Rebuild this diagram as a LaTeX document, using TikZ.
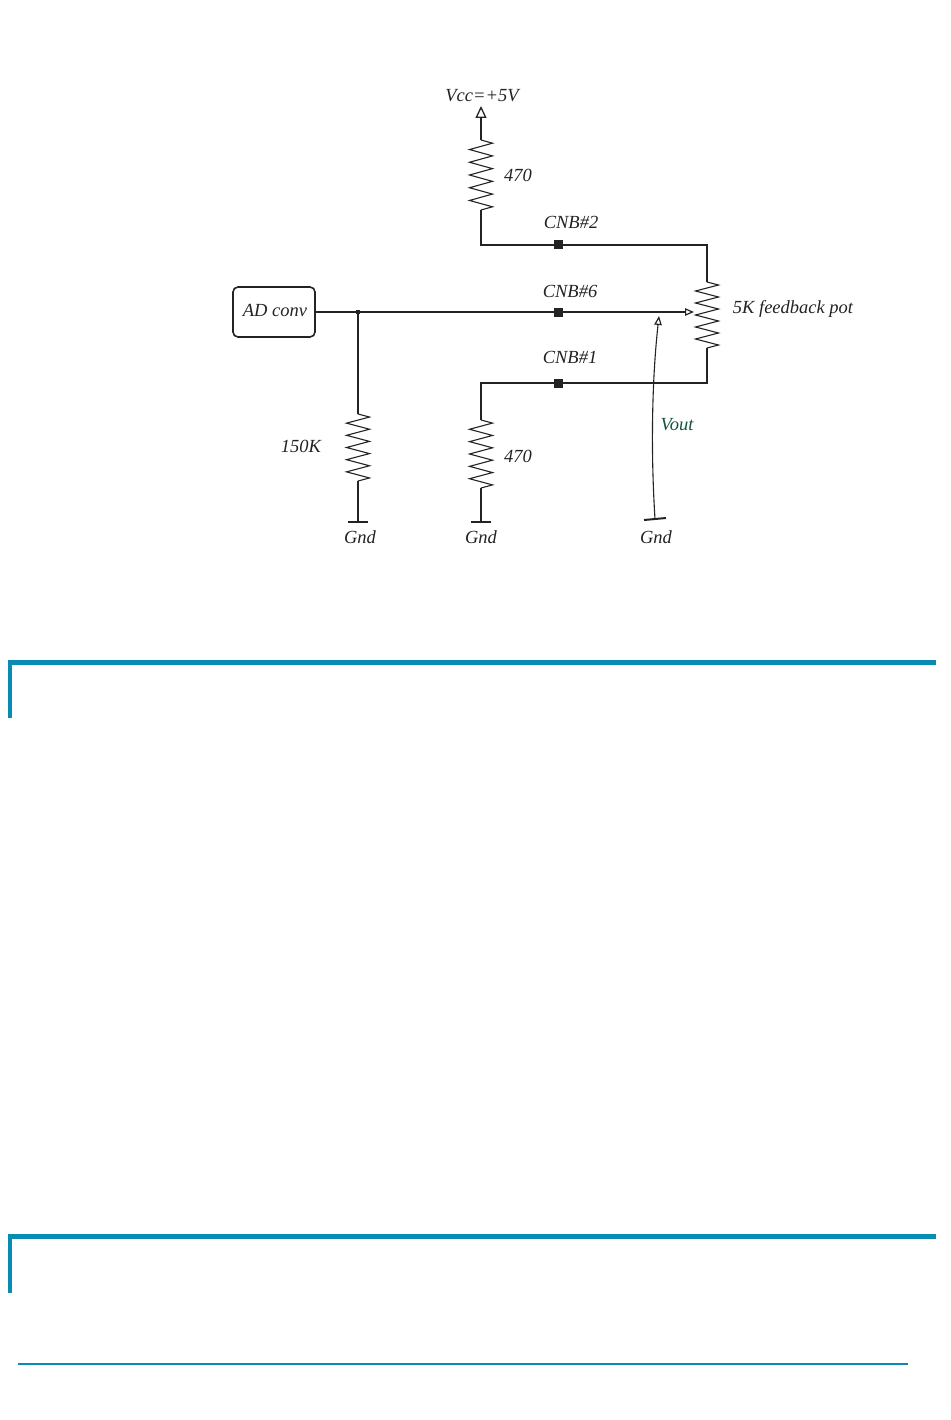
\documentclass[tikz,border=0pt]{standalone}
\usepackage{fontspec}
\setmainfont{Liberation Serif}
\usetikzlibrary{arrows.meta}
\definecolor{ink}{RGB}{35,35,35}
\definecolor{voutgreen}{RGB}{15,85,65}
\definecolor{rulecol}{RGB}{8,140,180}
\newcommand{\zigres}[3]{%
  \draw[wire] (#1,#2) \foreach \j in {0,...,10} { -- ({#1+11.5*(1-2*mod(\j,2))},{#2+(\j+0.5)*(#3-#2)/11}) } -- (#1,#3);
}
\begin{document}
\begin{tikzpicture}[x=1pt,y=-1pt,
  wire/.style={draw=ink, line width=1.1pt},
  gndbar/.style={draw=ink, line width=2pt},
  lbl/.style={font=\itshape\fontsize{18.5}{20}\selectfont, text=ink, inner sep=0pt},
  conn/.style={fill=ink, minimum size=9pt, inner sep=0pt, draw=none},
  openarrow/.style={-{Triangle[open,length=12pt,width=11pt,line width=1.3pt]}},
  smallarrow/.style={-{Triangle[open,length=9pt,width=7.5pt,line width=1.2pt]}},
  rulethick/.style={draw=rulecol, line width=5pt},
  rulethin/.style={draw=rulecol, line width=3.5pt}]
\useasboundingbox (0,0) rectangle (950,1420);

% labels
\node[lbl] (vcc) at (482,96) {Vcc=+5V};
\node[lbl] (l470a) at (518,175) {470};
\node[lbl] (lcnb2) at (571,222) {CNB\#2};
\node[lbl] (lcnb6) at (570,291) {CNB\#6};
\node[lbl] (lcnb1) at (570,357) {CNB\#1};
\node[lbl] (lpot) at (793,309) {5K feedback pot};
\node[lbl] (l150) at (301,446) {150K};
\node[lbl] (l470b) at (518,456) {470};
\node[lbl, text=voutgreen] (lvout) at (677,425) {Vout};
\node[lbl] (g1) at (360,537) {Gnd};
\node[lbl] (g2) at (481,537) {Gnd};
\node[lbl] (g3) at (656,537) {Gnd};

% AD converter box
\node[draw=ink, line width=1.6pt, rounded corners=5pt, minimum width=82pt, minimum height=50pt, inner sep=0pt] (ad) at (274,312) {};
\node[lbl] (adtxt) at (275,310) {AD conv};

% coordinates
\coordinate (vcctip) at (481,106);
\coordinate (r1top) at (481,140);
\coordinate (r1bot) at (481,210);
\coordinate (n2) at (481,245);
\coordinate (p2) at (707,245);
\coordinate (pottop) at (707,282);
\coordinate (potbot) at (707,348);
\coordinate (p1) at (707,383);
\coordinate (n1) at (481,383);
\coordinate (r3top) at (481,420);
\coordinate (r3bot) at (481,488);
\coordinate (gnd2) at (481,522);
\coordinate (wiper) at (694,312);
\coordinate (junc) at (358,312);
\coordinate (r2top) at (358,414);
\coordinate (r2bot) at (358,481);
\coordinate (gnd1) at (358,522);
\coordinate (vgnd) at (655,519);
\coordinate (vtip) at (659,316);

% supply and top resistor
\draw[wire, openarrow] (r1top) -- (vcctip);
\zigres{481}{140}{210}
\draw[wire] (r1bot) -- (n2) -- (p2) -- (pottop);
\node[conn] (c2) at (558,245) {};

% pot
\zigres{707}{282}{348}
\draw[wire] (potbot) -- (p1) -- (n1) -- (r3top);
\node[conn] (c1) at (558,383) {};
\zigres{481}{420}{488}
\draw[wire] (r3bot) -- (gnd2);
\draw[gndbar] (471,522) -- (491,522);

% wiper line
\draw[wire, smallarrow] (ad.east |- junc) -- (wiper);
\node[conn] (c6) at (558,312) {};
\fill[ink] (junc) +(-2,-2) rectangle +(2,2);

% 150K
\draw[wire] (junc) -- (r2top);
\zigres{358}{414}{481}
\draw[wire] (r2bot) -- (gnd1);
\draw[gndbar] (348,522) -- (368,522);

% Vout
\draw[wire, smallarrow] (vgnd) .. controls (650,440) and (653,370) .. (vtip);
\draw[gndbar] (644,520) -- (666,518);

% blue rules
\draw[rulethick] (8,662.5) -- (936,662.5);
\draw[rulethin] (10,662) -- (10,718);
\draw[rulethick] (8,1236) -- (936,1236);
\draw[rulethin] (10,1236) -- (10,1293);
\draw[draw=rulecol, line width=2.2pt] (18,1364) -- (908,1364);
\end{tikzpicture}
\end{document}
